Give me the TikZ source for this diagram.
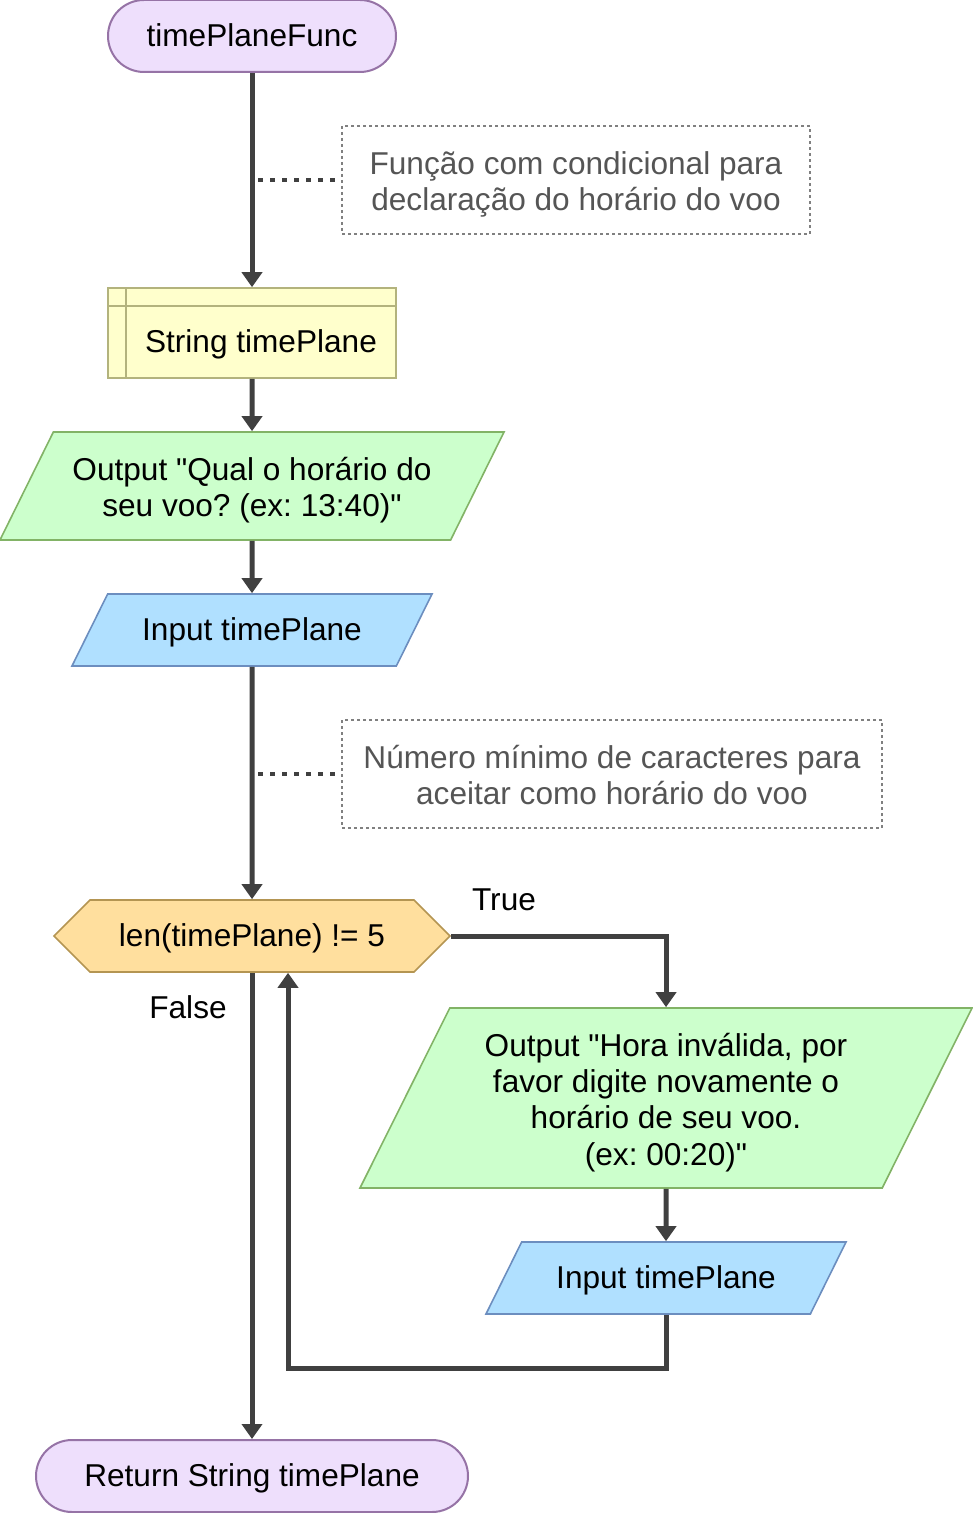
\documentclass[tikz,border=0pt]{standalone}
\usepackage{fontspec}
\setmainfont{Liberation Sans}
\usetikzlibrary{arrows.meta, positioning, shapes.geometric, shapes.symbols}
\definecolor{termfill}{HTML}{EEDFFC}
\definecolor{termline}{HTML}{9673A6}
\definecolor{storefill}{HTML}{FFFFCC}
\definecolor{storeline}{HTML}{B3B37D}
\definecolor{outfill}{HTML}{CCFFCC}
\definecolor{outline}{HTML}{82B366}
\definecolor{infill}{HTML}{B0E0FF}
\definecolor{inline}{HTML}{6C8EBF}
\definecolor{condfill}{HTML}{FFDF9E}
\definecolor{condline}{HTML}{B49552}
\definecolor{flowgray}{HTML}{404040}
\definecolor{notegray}{HTML}{555555}
\newcommand{\dq}{\textquotedbl}
\newcommand{\firstline}{\rule{0pt}{16pt}}
\frenchspacing

\begin{document}
\begin{tikzpicture}[x=0.5pt, y=-0.5pt,
  every node/.style={font=\fontsize{15.8}{18.2}\selectfont, align=center, inner sep=0pt,
                     execute at begin node={\rule{0pt}{14.3pt}},
                     execute at end node={\rule[-3.35pt]{0pt}{3.35pt}}},
  terminal/.style={rectangle, rounded corners=18pt, draw=termline, fill=termfill, line width=1pt,
                   minimum height=36pt},
  storebox/.style={rectangle, draw=storeline, fill=storefill, line width=0.8pt,
                   minimum width=144pt, minimum height=45pt,
                   path picture={
                     \draw[storeline, line width=0.8pt]
                       ([xshift=9pt]path picture bounding box.north west) -- ([xshift=9pt]path picture bounding box.south west)
                       ([yshift=-9pt]path picture bounding box.north west) -- ([yshift=-9pt]path picture bounding box.north east);}},
  slanted/.style={trapezium, trapezium left angle=63.43, trapezium right angle=116.57,
                  trapezium stretches body=true, inner ysep=9pt, line width=0.8pt},
  outbox/.style={slanted, inner ysep=7.9pt, draw=outline, fill=outfill},
  inbox/.style={slanted, draw=inline, fill=infill},
  condbox/.style={signal, signal to=west and east, signal pointer angle=90,
                  draw=condline, fill=condfill, line width=0.8pt,
                  minimum width=198pt, minimum height=36pt},
  notebox/.style={rectangle, draw=gray, dash pattern=on 1.5pt off 1.5pt, line width=0.7pt,
                  text=notegray, minimum height=54pt},
  flow/.style={-{Triangle[width=10pt, length=7.5pt]}, draw=flowgray, line width=2.5pt},
  notelink/.style={draw=flowgray, line width=2pt, dash pattern=on 2.5pt off 3.5pt, dash phase=-3pt},
]
\useasboundingbox (0,0) rectangle (973,1513);

% blocks
\node[terminal, minimum width=144pt] (start) at (252,36) {timePlaneFunc};
\node[storebox] (store) at (252,333) {\rule{0pt}{23.3pt}\hspace*{9pt}String timePlane};
\node[outbox, minimum width=252pt, minimum height=54pt] (out1) at (252,486)
  {\firstline Output \dq Qual o horário do\\seu voo? (ex: 13:40)\dq};
\node[inbox, minimum width=180pt, minimum height=36pt] (in1) at (252,630) {Input timePlane};
\node[condbox] (cond) at (252,936) {len(timePlane) != 5};
\node[outbox, minimum width=306pt, minimum height=90pt] (out2) at (666,1098)
  {\firstline Output \dq Hora inválida, por\\favor digite novamente o\\horário de seu voo.\\(ex: 00:20)\dq};
\node[inbox, minimum width=180pt, minimum height=36pt] (in2) at (666,1278) {Input timePlane};
\node[terminal, minimum width=216pt] (ret) at (252,1476) {Return String timePlane};

% comments
\node[notebox, minimum width=234pt] (note1) at (576,180)
  {\firstline Função com condicional para\\declaração do horário do voo};
\node[notebox, minimum width=270pt] (note2) at (612,774)
  {\firstline Número mínimo de caracteres para\\aceitar como horário do voo};
\coordinate (n1) at (start |- note1);
\coordinate (n2) at (start |- note2);

% flow
\draw[flow] (start) -- (store);
\draw[flow] (store) -- (out1);
\draw[flow] (out1) -- (in1);
\draw[flow] (in1) -- (cond);
\draw[flow] (cond.east) -| (out2.north);
\draw[flow] (out2) -- (in2);
\coordinate (back) at (288,1368);
\draw[flow] (in2.south) |- (back) -- (back |- cond.south);
\draw[flow] (cond.south) -- (ret.north);
\draw[notelink] (n1) -- (note1.west);
\draw[notelink] (n2) -- (note2.west);

% labels
\node (ltrue) at (504,900) {True};
\node (lfalse) at (188,1008) {False};
\end{tikzpicture}
\end{document}
